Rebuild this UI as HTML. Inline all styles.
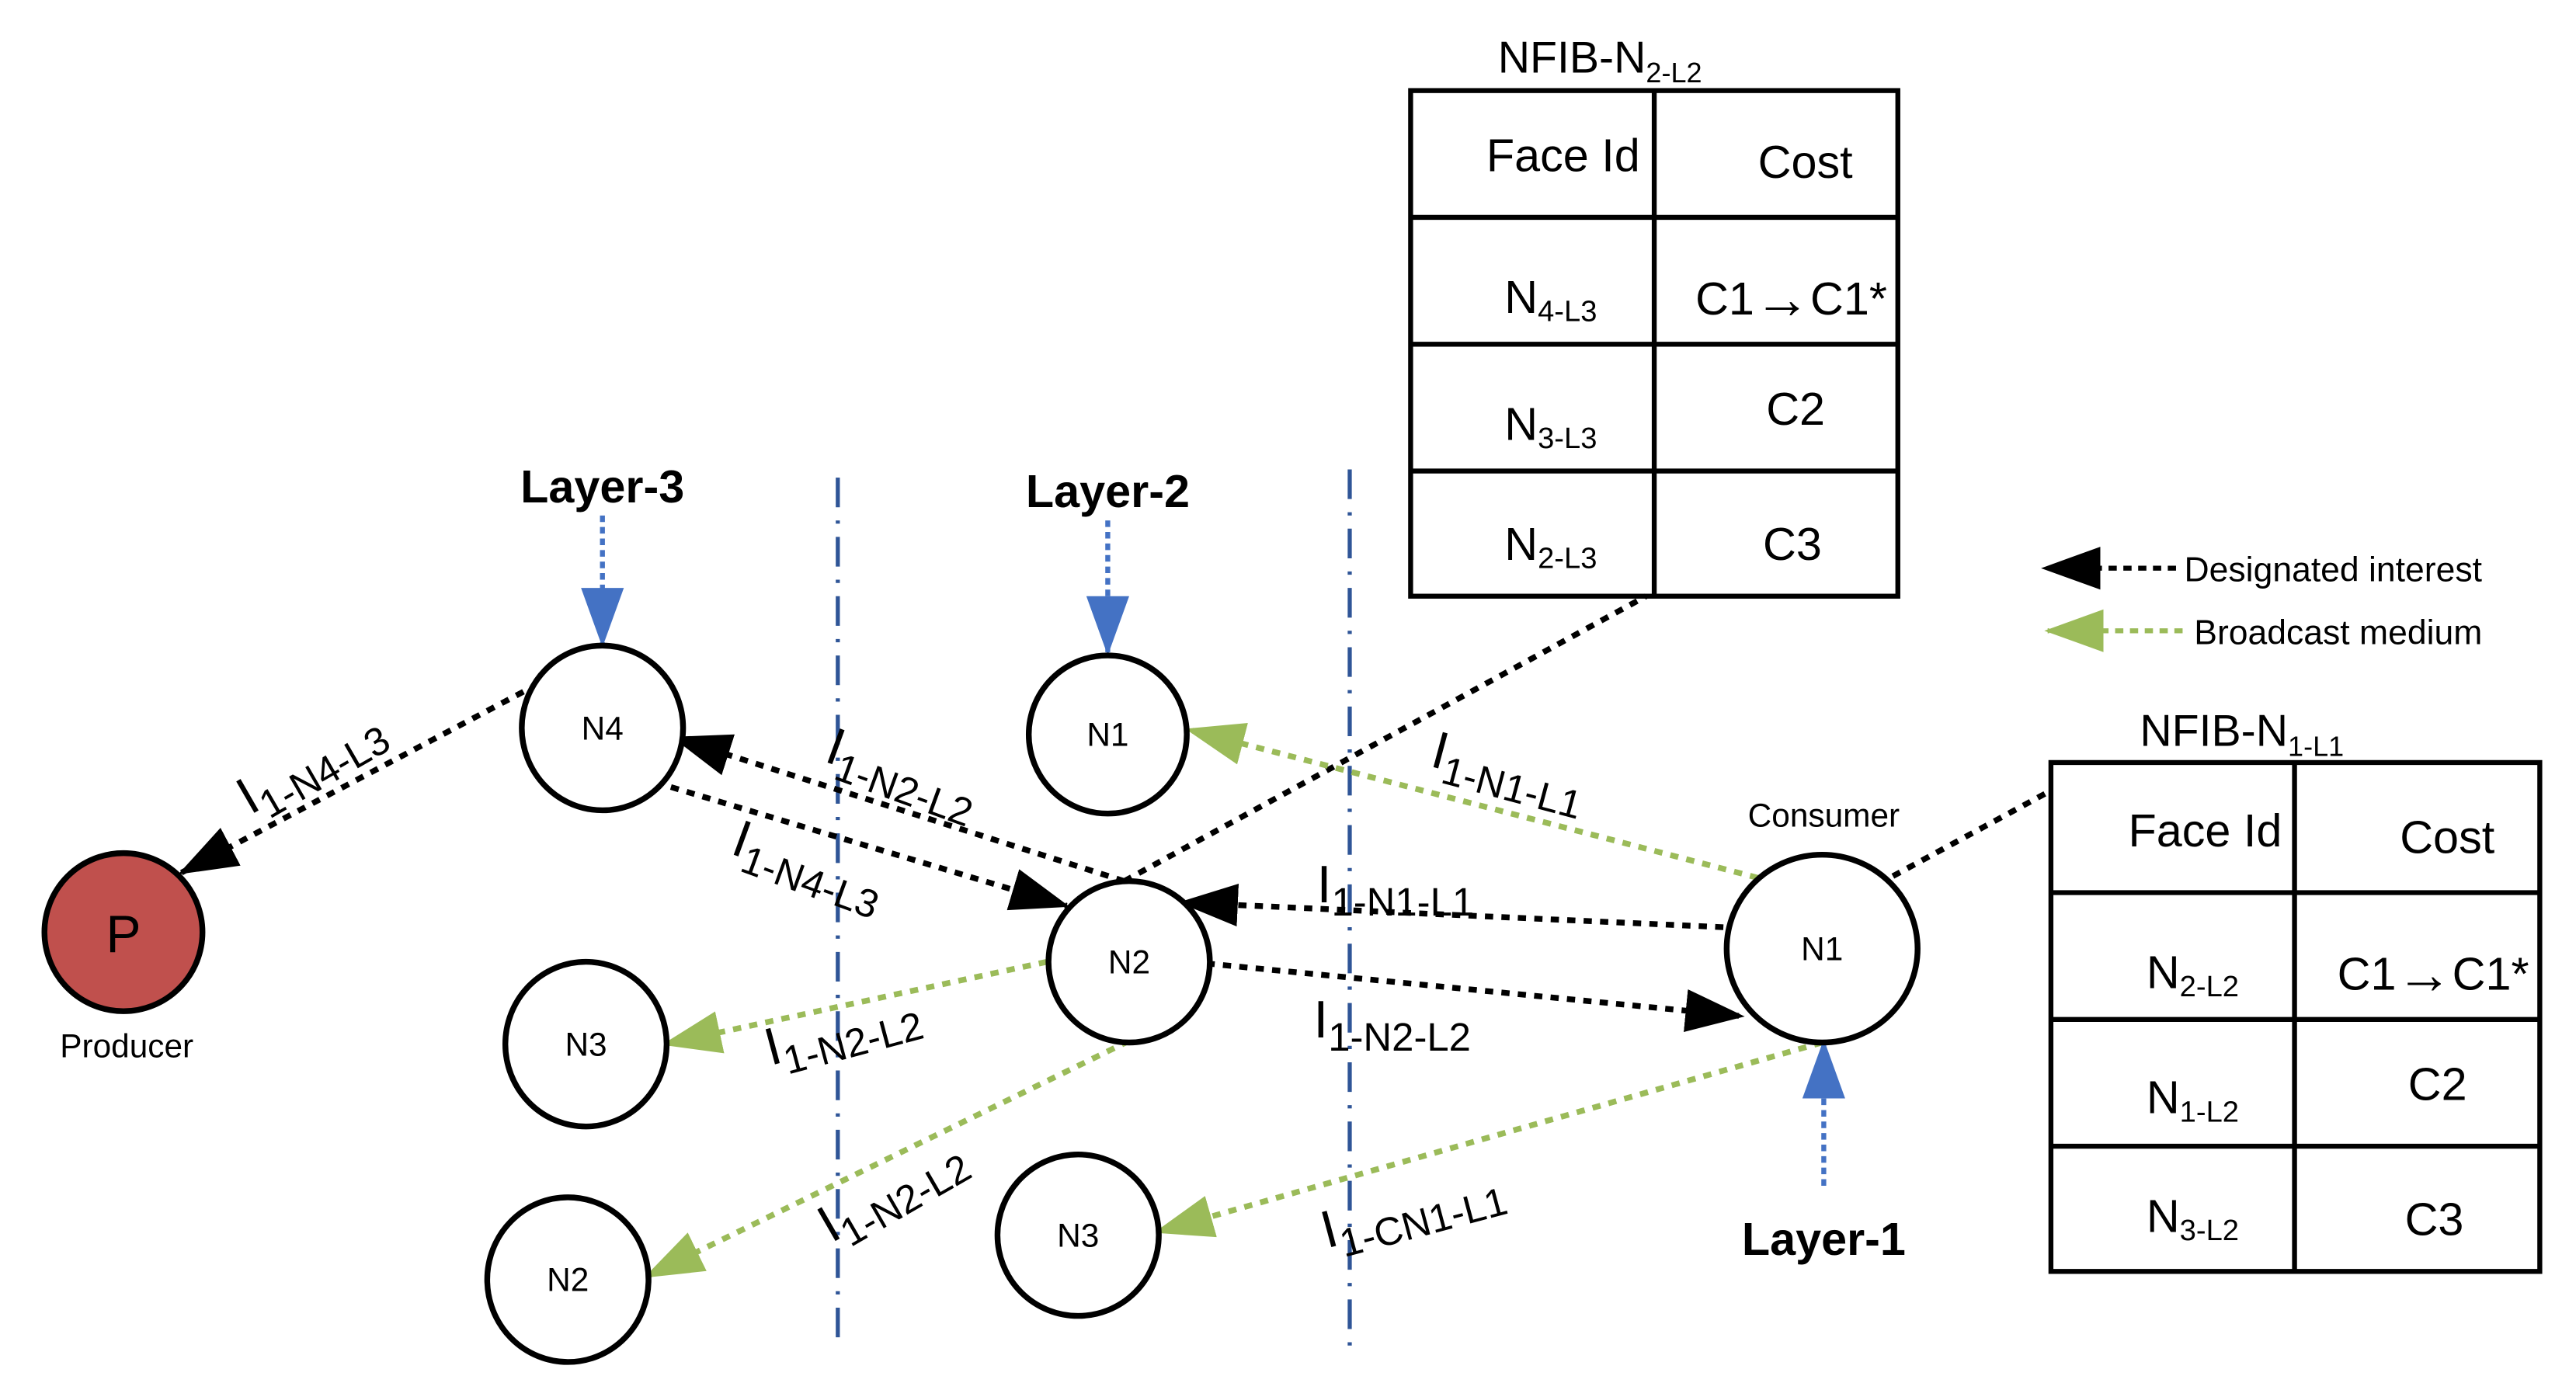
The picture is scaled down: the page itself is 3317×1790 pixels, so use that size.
<!DOCTYPE html>
<html><head><meta charset="utf-8"><style>
html,body{margin:0;padding:0;background:#fff}
svg{display:block}
text{font-family:"Liberation Sans Narrow","Liberation Sans",sans-serif;fill:#000}
</style></head><body>
<svg width="3317" height="1790" viewBox="0 0 1565 844" preserveAspectRatio="none" xmlns="http://www.w3.org/2000/svg">
<defs>
<marker id="bk" markerUnits="userSpaceOnUse" markerWidth="36" markerHeight="26" refX="34" refY="13" orient="auto"><path d="M0,0 L36,13 L0,26 Z" fill="#000"/></marker>
<marker id="gr" markerUnits="userSpaceOnUse" markerWidth="36" markerHeight="26" refX="34" refY="13" orient="auto"><path d="M0,0 L36,13 L0,26 Z" fill="#9bbb59"/></marker>
<marker id="blr" markerUnits="userSpaceOnUse" markerWidth="36" markerHeight="26" refX="34" refY="13" orient="auto"><path d="M0,0 L36,13 L0,26 Z" fill="#4472c4"/></marker>
</defs>

<g stroke="#2f5597" stroke-width="2.5" stroke-dasharray="18,8,2,8">
<line x1="509" y1="290" x2="509" y2="820"/>
<line x1="820" y1="285" x2="820" y2="820"/>
</g>

<text x="910" y="44" font-size="27">NFIB-N<tspan font-size="17" dy="6">2-L2</tspan></text>
<g stroke="#000" stroke-width="3" fill="none">
<rect x="857" y="55" width="296" height="307"/>
<line x1="1005" y1="55" x2="1005" y2="362"/>
<line x1="857" y1="132" x2="1153" y2="132"/>
<line x1="857" y1="209" x2="1153" y2="209"/>
<line x1="857" y1="286" x2="1153" y2="286"/>
</g>
<g font-size="28">
<text x="903" y="104">Face Id</text><text x="1068" y="108">Cost</text>
<text x="914" y="190">N<tspan font-size="18" dy="5">4-L3</tspan></text>
<text x="1030" y="191">C1<tspan font-size="34" dy="2">→</tspan><tspan dy="-2">C1*</tspan></text>
<text x="914" y="267">N<tspan font-size="18" dy="5">3-L3</tspan></text>
<text x="1073" y="258">C2</text>
<text x="914" y="340">N<tspan font-size="18" dy="5">2-L3</tspan></text>
<text x="1071" y="340">C3</text>
</g>

<text x="1300" y="453" font-size="27">NFIB-N<tspan font-size="17" dy="6">1-L1</tspan></text>
<g stroke="#000" stroke-width="3" fill="none">
<rect x="1246" y="463" width="297" height="309"/>
<line x1="1394" y1="463" x2="1394" y2="772"/>
<line x1="1246" y1="542" x2="1543" y2="542"/>
<line x1="1246" y1="619" x2="1543" y2="619"/>
<line x1="1246" y1="696" x2="1543" y2="696"/>
</g>
<g font-size="28">
<text x="1293" y="514">Face Id</text><text x="1458" y="518">Cost</text>
<text x="1304" y="600">N<tspan font-size="18" dy="5">2-L2</tspan></text>
<text x="1420" y="601">C1<tspan font-size="34" dy="2">→</tspan><tspan dy="-2">C1*</tspan></text>
<text x="1304" y="676">N<tspan font-size="18" dy="5">1-L2</tspan></text>
<text x="1463" y="668">C2</text>
<text x="1304" y="748">N<tspan font-size="18" dy="5">3-L2</tspan></text>
<text x="1461" y="750">C3</text>
</g>

<line x1="1322" y1="345" x2="1242" y2="345" stroke="#000" stroke-width="3" stroke-dasharray="5,4" marker-end="url(#bk)"/>
<text x="1327" y="353" font-size="21">Designated interest</text>
<line x1="1326" y1="383" x2="1244" y2="383" stroke="#9bbb59" stroke-width="3" stroke-dasharray="5,4" marker-end="url(#gr)"/>
<text x="1333" y="391" font-size="21">Broadcast medium</text>

<g stroke="#000" stroke-width="3.5" stroke-dasharray="5,5" fill="none">
<line x1="318" y1="420" x2="110" y2="530" marker-end="url(#bk)"/>
<line x1="683" y1="535" x2="410" y2="448" marker-end="url(#bk)"/>
<line x1="398" y1="475" x2="648" y2="550" marker-end="url(#bk)"/>
<line x1="1047" y1="563" x2="718" y2="548" marker-end="url(#bk)"/>
<line x1="733" y1="585" x2="1058" y2="617" marker-end="url(#bk)"/>
<line x1="683" y1="535" x2="1000" y2="362"/>
<line x1="1150" y1="532" x2="1246" y2="480"/>
</g>
<g stroke="#9bbb59" stroke-width="3.5" stroke-dasharray="5,5" fill="none">
<line x1="1068" y1="533" x2="722" y2="443" marker-end="url(#gr)"/>
<line x1="636" y1="584" x2="404" y2="634" marker-end="url(#gr)"/>
<line x1="686" y1="632" x2="393" y2="775" marker-end="url(#gr)"/>
<line x1="1107" y1="633" x2="703" y2="748" marker-end="url(#gr)"/>
</g>
<g stroke="#4472c4" stroke-width="3" stroke-dasharray="4,3" fill="none">
<line x1="366" y1="313" x2="366" y2="391" marker-end="url(#blr)"/>
<line x1="673" y1="316" x2="673" y2="396" marker-end="url(#blr)"/>
<line x1="1108" y1="720" x2="1108" y2="633" marker-end="url(#blr)"/>
</g>
<g font-size="28" font-weight="bold">
<text x="366" y="305" text-anchor="middle">Layer-3</text>
<text x="673" y="308" text-anchor="middle">Layer-2</text>
<text x="1108" y="762" text-anchor="middle">Layer-1</text>
</g>

<g stroke="#000" stroke-width="3.5">
<circle cx="75" cy="566" r="48" fill="#c0504d"/>
<ellipse cx="366" cy="442" rx="49" ry="50" fill="#fff"/>
<ellipse cx="673" cy="446" rx="48" ry="48" fill="#fff"/>
<ellipse cx="686" cy="584" rx="49" ry="49" fill="#fff"/>
<ellipse cx="356" cy="634" rx="49" ry="50" fill="#fff"/>
<ellipse cx="345" cy="777" rx="49" ry="50" fill="#fff"/>
<ellipse cx="655" cy="750" rx="49" ry="49" fill="#fff"/>
<ellipse cx="1107" cy="576" rx="58" ry="57" fill="#fff"/>
</g>
<g font-size="20" text-anchor="middle">
<text x="75" y="578" font-size="32">P</text>
<text x="77" y="642">Producer</text>
<text x="366" y="449">N4</text>
<text x="673" y="453">N1</text>
<text x="686" y="591">N2</text>
<text x="356" y="641">N3</text>
<text x="345" y="784">N2</text>
<text x="655" y="757">N3</text>
<text x="1107" y="583">N1</text>
<text x="1108" y="502">Consumer</text>
</g>

<g font-size="32">
<text transform="translate(152,495) rotate(-30)">I<tspan font-size="24" dy="8">1-N4-L3</tspan></text>
<text transform="translate(500,462) rotate(20)">I<tspan font-size="24" dy="8">1-N2-L2</tspan></text>
<text transform="translate(443,518) rotate(20)">I<tspan font-size="24" dy="8">1-N4-L3</tspan></text>
<text transform="translate(868,465) rotate(15)">I<tspan font-size="24" dy="8">1-N1-L1</tspan></text>
<text transform="translate(800,548)">I<tspan font-size="24" dy="8">1-N1-L1</tspan></text>
<text transform="translate(798,630)">I<tspan font-size="24" dy="8">1-N2-L2</tspan></text>
<text transform="translate(468,647) rotate(-15)">I<tspan font-size="24" dy="8">1-N2-L2</tspan></text>
<text transform="translate(505,755) rotate(-30)">I<tspan font-size="24" dy="8">1-N2-L2</tspan></text>
<text transform="translate(806,758) rotate(-15)">I<tspan font-size="24" dy="8">1-CN1-L1</tspan></text>
</g>
</svg>
</body></html>
